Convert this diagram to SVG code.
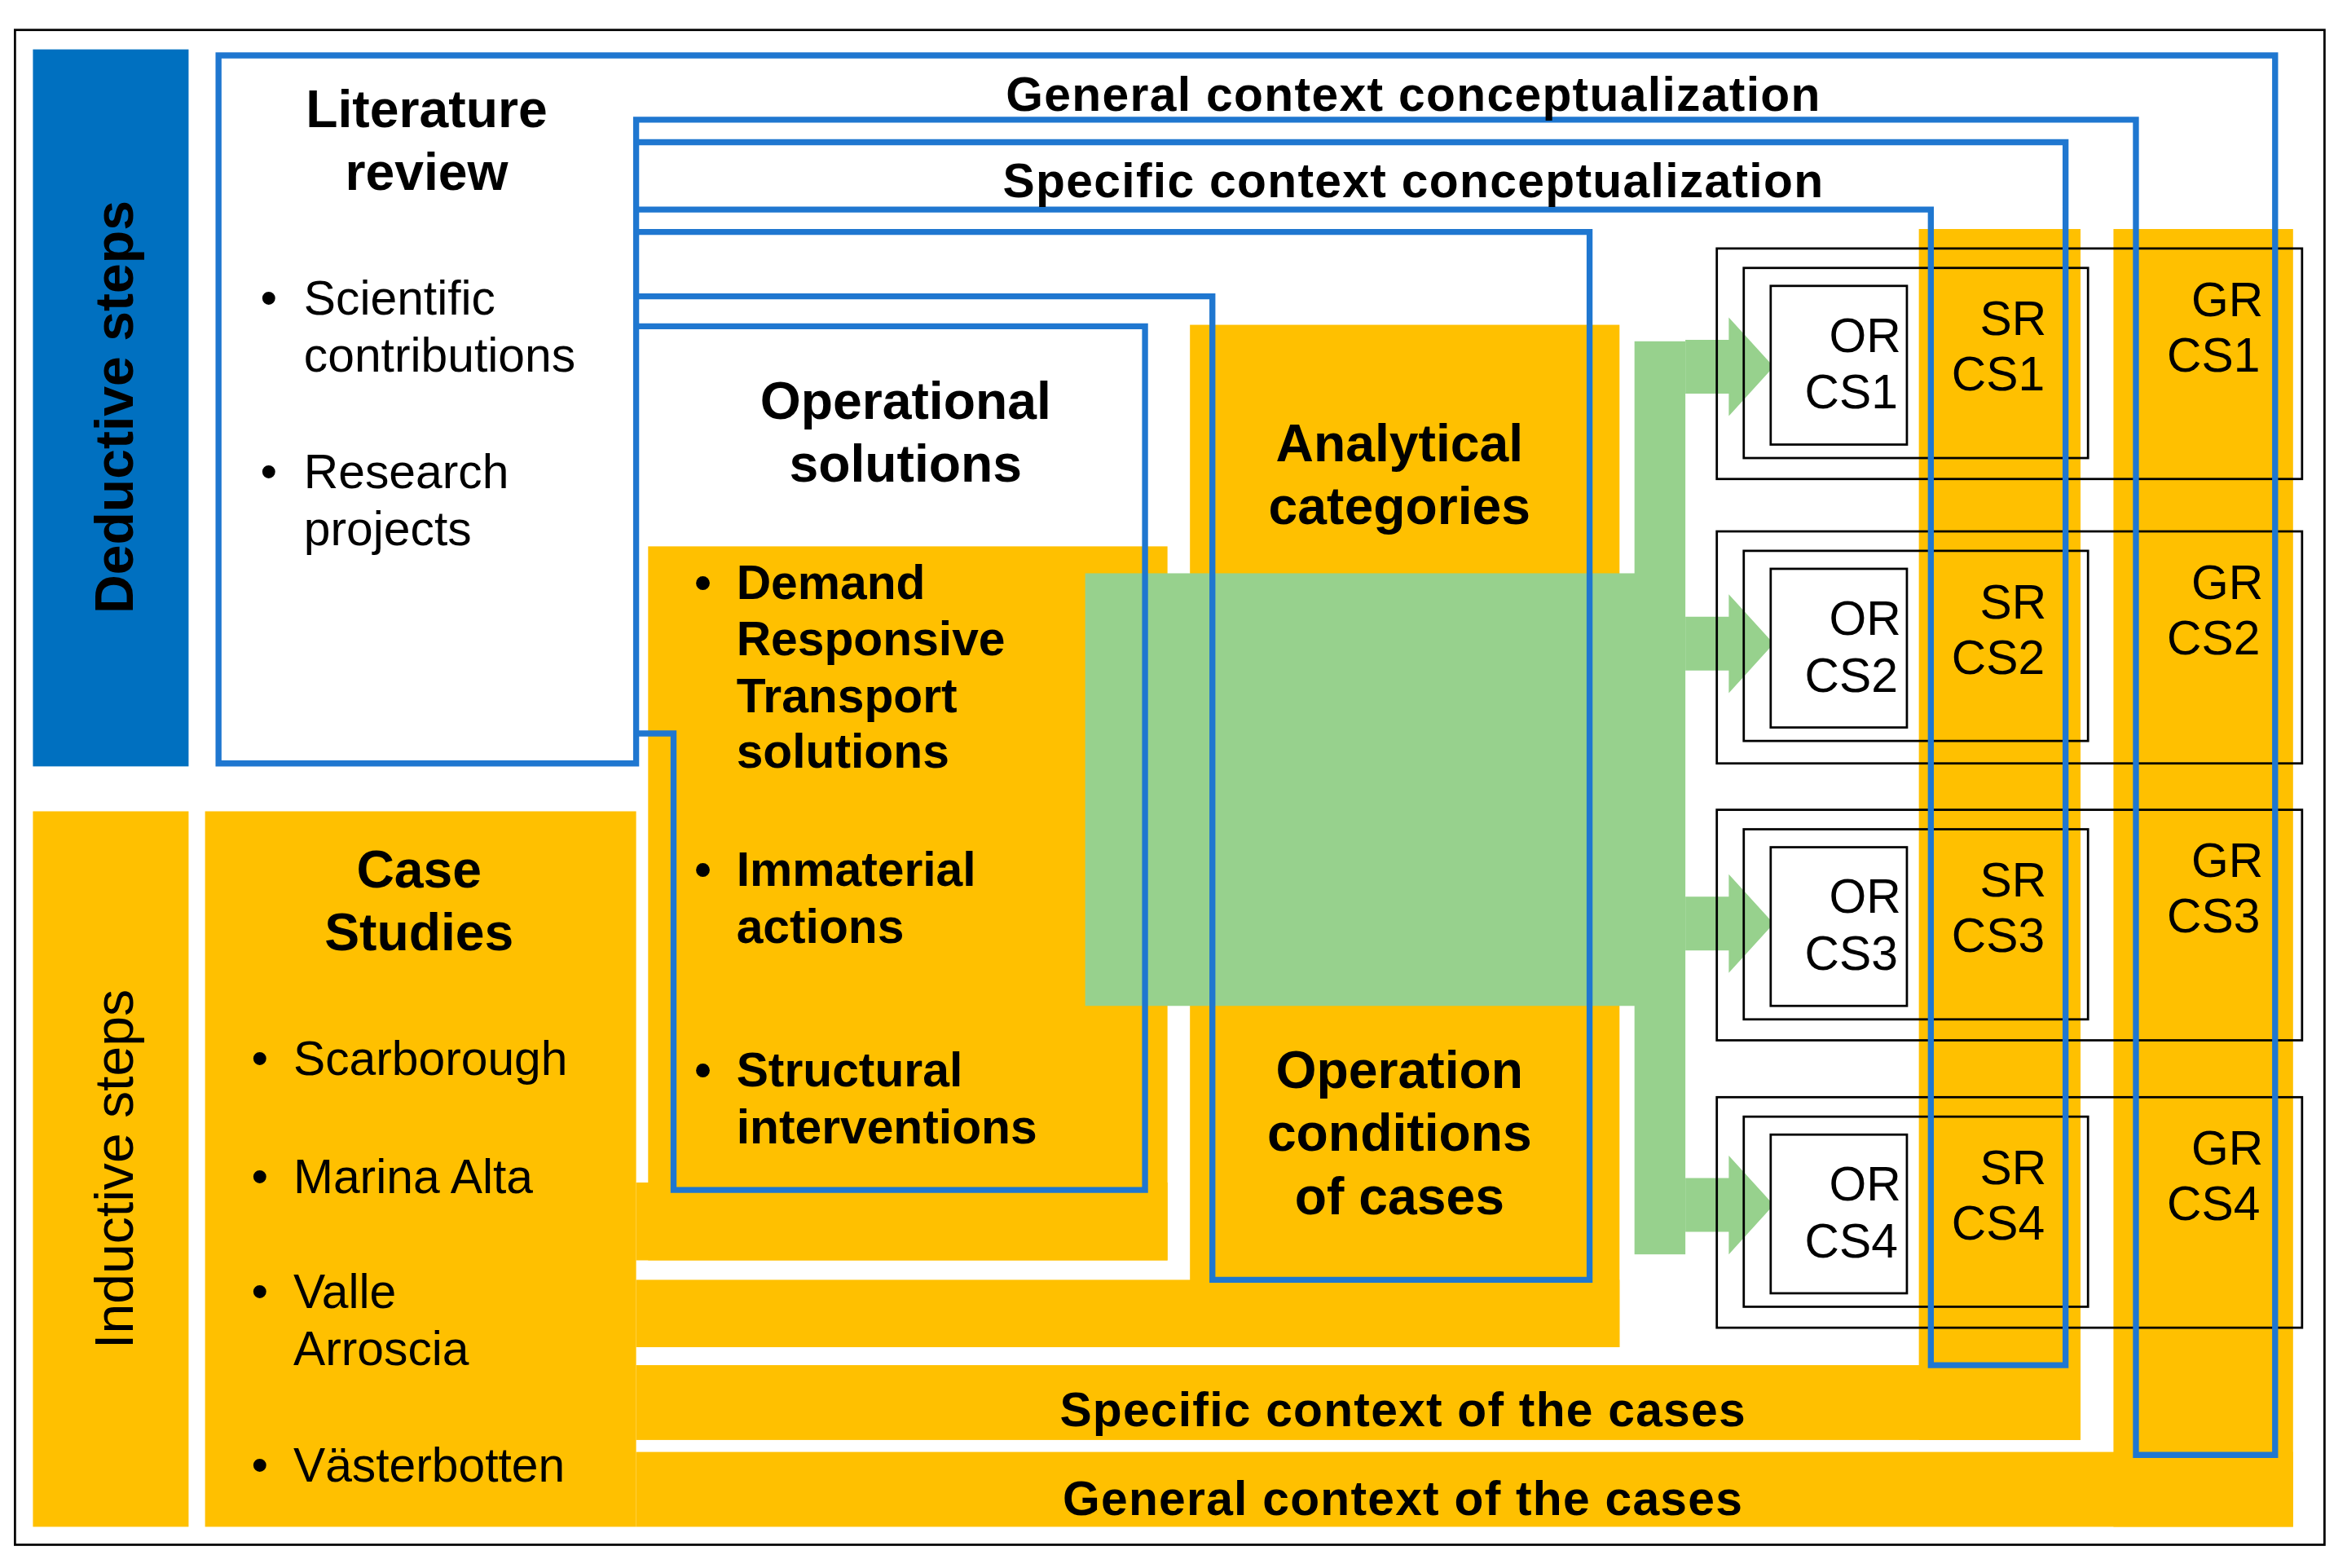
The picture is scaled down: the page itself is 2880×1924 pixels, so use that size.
<svg xmlns="http://www.w3.org/2000/svg" width="2880" height="1924" viewBox="0 0 2880 1924">
<style>
text{font-family:"Liberation Sans",Arimo,Arial,sans-serif;fill:#000}
.b{font-weight:bold}
.t{font-size:32px}
.h{font-size:35px;font-weight:bold;text-anchor:middle}
.m{text-anchor:middle}
.y{fill:#FFC000}
.g{fill:#97D18D}
.bl{fill:none;stroke:#1F77D0;stroke-width:4}
.k{fill:none;stroke:#000;stroke-width:1.5}
.w{fill:#fff;stroke:#000;stroke-width:1.5}
</style>
<rect width="2880" height="1924" fill="#fff"/>
<g transform="scale(1.8367)">
<rect x="10" y="20" width="1543" height="1012" class="k"/>
<g id="deductive"><rect x="22" y="33" width="104" height="479" fill="#0070C0"/>
<text class="b m" font-size="36" transform="translate(89,272) rotate(-90)">Deductive steps</text></g>
<g id="inductive"><rect x="22" y="542" width="104" height="478" class="y"/>
<text class="m" font-size="36" transform="translate(89,781) rotate(-90)">Inductive steps</text></g>
<g id="bands">
<rect x="137" y="542" width="288" height="478" class="y"/>
<rect x="1412" y="153" width="120" height="867" class="y"/>
<rect x="425" y="970" width="1107" height="50" class="y"/>
<rect x="1282" y="153" width="108" height="809" class="y"/>
<rect x="425" y="912" width="965" height="50" class="y"/>
<rect x="795" y="217" width="287" height="683" class="y"/>
<rect x="425" y="855" width="657" height="45" class="y"/>
<rect x="433" y="365" width="347" height="477" class="y"/>
<rect x="425" y="790" width="355" height="52" class="y"/>
</g>
<g id="green">
<rect x="725" y="383" width="400" height="289" class="g"/>
<rect x="1092" y="228" width="34" height="610" class="g"/>
<path id="arr" d="M1126,227 H1155 V212 L1185,245 L1155,278 V263 H1126 Z" class="g"/>
<use href="#arr" y="185"/><use href="#arr" y="372"/><use href="#arr" y="560"/>
</g>
<g id="cases">
<g id="cs1"><rect x="1147" y="166" width="391" height="154" class="k"/><rect x="1165" y="179" width="230" height="127" class="k"/><rect x="1183" y="191" width="91" height="106" class="w"/>
<text class="t" x="1270" y="235" text-anchor="end">OR</text><text class="t" x="1268" y="273" text-anchor="end">CS1</text>
<text class="t m" x="1345" y="224">SR</text><text class="t m" x="1335" y="261">CS1</text>
<text class="t" x="1512" y="211" text-anchor="end">GR</text><text class="t" x="1510" y="248" text-anchor="end">CS1</text></g>
<g id="cs2" transform="translate(0,189)"><rect x="1147" y="166" width="391" height="155" class="k"/><rect x="1165" y="179" width="230" height="127" class="k"/><rect x="1183" y="191" width="91" height="106" class="w"/>
<text class="t" x="1270" y="235" text-anchor="end">OR</text><text class="t" x="1268" y="273" text-anchor="end">CS2</text>
<text class="t m" x="1345" y="224">SR</text><text class="t m" x="1335" y="261">CS2</text>
<text class="t" x="1512" y="211" text-anchor="end">GR</text><text class="t" x="1510" y="248" text-anchor="end">CS2</text></g>
<g id="cs3" transform="translate(0,375)"><rect x="1147" y="166" width="391" height="154" class="k"/><rect x="1165" y="179" width="230" height="127" class="k"/><rect x="1183" y="191" width="91" height="106" class="w"/>
<text class="t" x="1270" y="235" text-anchor="end">OR</text><text class="t" x="1268" y="273" text-anchor="end">CS3</text>
<text class="t m" x="1345" y="224">SR</text><text class="t m" x="1335" y="261">CS3</text>
<text class="t" x="1512" y="211" text-anchor="end">GR</text><text class="t" x="1510" y="248" text-anchor="end">CS3</text></g>
<g id="cs4" transform="translate(0,567)"><rect x="1147" y="166" width="391" height="154" class="k"/><rect x="1165" y="179" width="230" height="127" class="k"/><rect x="1183" y="191" width="91" height="106" class="w"/>
<text class="t" x="1270" y="235" text-anchor="end">OR</text><text class="t" x="1268" y="273" text-anchor="end">CS4</text>
<text class="t m" x="1345" y="224">SR</text><text class="t m" x="1335" y="261">CS4</text>
<text class="t" x="1512" y="211" text-anchor="end">GR</text><text class="t" x="1510" y="248" text-anchor="end">CS4</text></g>
</g>
<g id="connectors">
<path class="bl" d="M425,80 H1427 V972 H1520 V37 H146 V510 H425 Z"/>
<path class="bl" d="M425,95 H1380 V912 H1290 V140 H425"/>
<path class="bl" d="M425,155 H1062 V855 H810 V198 H425"/>
<path class="bl" d="M425,218 H765 V795 H450 V490 H425"/>
</g>
<g id="labels">
<text class="t b m" x="944" y="74" textLength="544">General context conceptualization</text>
<text class="t b m" x="944" y="132" textLength="548">Specific context conceptualization</text>
<text class="t b m" x="937" y="953" textLength="458">Specific context of the cases</text>
<text class="t b m" x="937" y="1012" textLength="454">General context of the cases</text>
</g>
<g id="literature">
<text class="h" x="285" y="85">Literature</text><text class="h" x="285" y="127">review</text>
<text class="t" x="174" y="210">•</text><text class="t" x="203" y="210">Scientific</text><text class="t" x="203" y="248">contributions</text>
<text class="t" x="174" y="326">•</text><text class="t" x="203" y="326">Research</text><text class="t" x="203" y="364">projects</text>
</g>
<g id="operational">
<text class="h" x="605" y="280">Operational</text><text class="h" x="605" y="322">solutions</text>
<text class="t b" x="464" y="400">•</text><text class="t b" x="492" y="400">Demand</text><text class="t b" x="492" y="438">Responsive</text><text class="t b" x="492" y="476">Transport</text><text class="t b" x="492" y="513">solutions</text>
<text class="t b" x="464" y="592">•</text><text class="t b" x="492" y="592">Immaterial</text><text class="t b" x="492" y="630">actions</text>
<text class="t b" x="464" y="726">•</text><text class="t b" x="492" y="726">Structural</text><text class="t b" x="492" y="764">interventions</text>
</g>
<g id="analytical">
<text class="h" x="935" y="308">Analytical</text><text class="h" x="935" y="350">categories</text>
</g>
<g id="conditions">
<text class="h" x="935" y="727">Operation</text><text class="h" x="935" y="769">conditions</text><text class="h" x="935" y="811">of cases</text>
</g>
<g id="casestudies">
<text class="h" x="280" y="593">Case</text><text class="h" x="280" y="635">Studies</text>
<text class="t" x="168" y="718">•</text><text class="t" x="196" y="718">Scarborough</text>
<text class="t" x="168" y="797">•</text><text class="t" x="196" y="797">Marina Alta</text>
<text class="t" x="168" y="874">•</text><text class="t" x="196" y="874">Valle</text><text class="t" x="196" y="912">Arroscia</text>
<text class="t" x="168" y="990">•</text><text class="t" x="196" y="990">Västerbotten</text>
</g>
</g>
</svg>
